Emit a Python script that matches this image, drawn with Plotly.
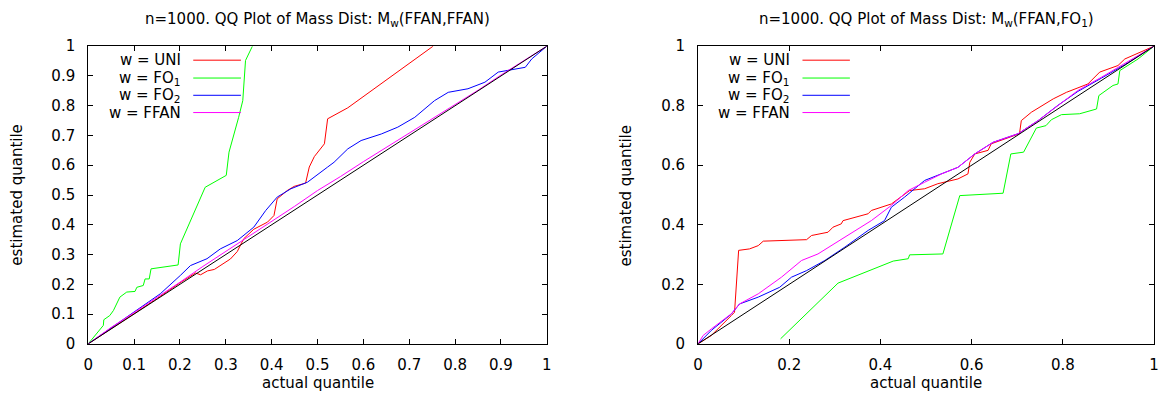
import plotly.graph_objects as go

# ---------------- data ----------------
# Left panel: M_w(FFAN,FFAN)
L_uni_x = [0, 0.05, 0.10, 0.15, 0.20, 0.234, 0.245, 0.26, 0.275, 0.29, 0.31, 0.325, 0.339, 0.361, 0.391, 0.405, 0.412, 0.434, 0.449, 0.474, 0.482, 0.493, 0.515, 0.522, 0.566, 0.752]
L_uni_y = [0, 0.05, 0.10, 0.152, 0.205, 0.238, 0.232, 0.245, 0.25, 0.265, 0.285, 0.31, 0.353, 0.385, 0.409, 0.431, 0.487, 0.515, 0.529, 0.540, 0.594, 0.629, 0.672, 0.756, 0.793, 1.0]

L_fo1_x = [0, 0.033, 0.034, 0.047, 0.055, 0.060, 0.069, 0.084, 0.102, 0.106, 0.120, 0.124, 0.133, 0.137, 0.196, 0.201, 0.255, 0.301, 0.307, 0.328, 0.337, 0.343, 0.358]
L_fo1_y = [0, 0.062, 0.081, 0.095, 0.112, 0.129, 0.157, 0.174, 0.176, 0.190, 0.196, 0.218, 0.218, 0.252, 0.265, 0.336, 0.526, 0.566, 0.644, 0.761, 0.817, 0.952, 1.0]

L_fo2_x = [0, 0.05, 0.091, 0.157, 0.201, 0.223, 0.259, 0.288, 0.325, 0.361, 0.387, 0.412, 0.442, 0.478, 0.522, 0.536, 0.566, 0.595, 0.639, 0.675, 0.712, 0.755, 0.785, 0.828, 0.865, 0.894, 0.953, 0.967, 1.0]
L_fo2_y = [0, 0.053, 0.095, 0.168, 0.230, 0.263, 0.286, 0.319, 0.347, 0.392, 0.448, 0.493, 0.521, 0.543, 0.594, 0.610, 0.655, 0.683, 0.705, 0.728, 0.761, 0.817, 0.845, 0.857, 0.879, 0.913, 0.929, 0.957, 1.0]

L_ffan_x = [0, 0.05, 0.10, 0.15, 0.20, 0.25, 0.30, 0.35, 0.40, 0.45, 0.50, 0.55, 0.60, 0.65, 0.70, 0.75, 0.80, 0.85, 0.90, 0.95, 1.0]
L_ffan_y = [0, 0.055, 0.105, 0.155, 0.207, 0.26, 0.31, 0.36, 0.41, 0.462, 0.515, 0.562, 0.612, 0.66, 0.71, 0.758, 0.805, 0.852, 0.903, 0.952, 1.0]

# Right panel: M_w(FFAN,FO1)
R_uni_x = [0, 0.029, 0.073, 0.080, 0.089, 0.113, 0.132, 0.143, 0.238, 0.249, 0.285, 0.296, 0.314, 0.318, 0.373, 0.380, 0.424, 0.464, 0.497, 0.526, 0.570, 0.592, 0.596, 0.607, 0.636, 0.643, 0.705, 0.709, 0.731, 0.779, 0.808, 0.855, 0.881, 0.921, 0.936, 1.0]
R_uni_y = [0, 0.028, 0.095, 0.106, 0.314, 0.319, 0.330, 0.345, 0.350, 0.364, 0.375, 0.392, 0.403, 0.414, 0.437, 0.448, 0.470, 0.515, 0.521, 0.538, 0.554, 0.571, 0.610, 0.638, 0.650, 0.672, 0.706, 0.750, 0.778, 0.823, 0.845, 0.873, 0.913, 0.935, 0.957, 1.0]

R_fo1_x = [0.181, 0.307, 0.428, 0.461, 0.464, 0.537, 0.574, 0.669, 0.686, 0.714, 0.742, 0.763, 0.775, 0.797, 0.837, 0.874, 0.879, 0.910, 0.921, 0.925, 0.965, 1.0]
R_fo1_y = [0.017, 0.204, 0.278, 0.286, 0.299, 0.302, 0.498, 0.506, 0.638, 0.644, 0.725, 0.733, 0.753, 0.770, 0.773, 0.789, 0.834, 0.868, 0.873, 0.918, 0.957, 1.0]

R_fo2_x = [0, 0.029, 0.073, 0.091, 0.132, 0.179, 0.205, 0.238, 0.278, 0.322, 0.373, 0.409, 0.424, 0.453, 0.497, 0.534, 0.570, 0.607, 0.647, 0.702, 0.746, 0.789, 0.833, 0.885, 0.936, 1.0]
R_fo2_y = [0, 0.045, 0.100, 0.134, 0.157, 0.190, 0.224, 0.246, 0.280, 0.325, 0.381, 0.414, 0.459, 0.493, 0.549, 0.571, 0.593, 0.638, 0.677, 0.706, 0.750, 0.801, 0.848, 0.893, 0.938, 1.0]

R_ffan_x = [0, 0.011, 0.029, 0.073, 0.091, 0.132, 0.183, 0.227, 0.263, 0.322, 0.380, 0.424, 0.461, 0.497, 0.534, 0.570, 0.607, 0.647, 0.702, 0.746, 0.789, 0.833, 0.885, 0.936, 1.0]
R_ffan_y = [0, 0.028, 0.050, 0.101, 0.134, 0.168, 0.224, 0.280, 0.302, 0.358, 0.414, 0.465, 0.515, 0.543, 0.571, 0.593, 0.638, 0.677, 0.706, 0.750, 0.801, 0.851, 0.896, 0.941, 1.0]

diag_x = [0, 1]
diag_y = [0, 1]

left_ticks = [0, 0.1, 0.2, 0.3, 0.4, 0.5, 0.6, 0.7, 0.8, 0.9, 1]
left_tick_text = ["0", "0.1", "0.2", "0.3", "0.4", "0.5", "0.6", "0.7", "0.8", "0.9", "1"]
right_ticks = [0, 0.2, 0.4, 0.6, 0.8, 1]
right_tick_text = ["0", "0.2", "0.4", "0.6", "0.8", "1"]

series_names = ["w = UNI", "w = FO<sub>1</sub>", "w = FO<sub>2</sub>", "w = FFAN"]
series_colors = ["#ff0000", "#00ff00", "#0000ff", "#ff00ff"]

titles = ["n=1000. QQ Plot of Mass Dist: M<sub>w</sub>(FFAN,FFAN)",
          "n=1000. QQ Plot of Mass Dist: M<sub>w</sub>(FFAN,FO<sub>1</sub>)"]
xlabel = "actual quantile"
ylabel = "estimated quantile"

# ---------------- figure ----------------
FONT = "DejaVu Sans"
FS = 15
W, H = 1159, 401

fig = go.Figure()

left_series = [(L_uni_x, L_uni_y), (L_fo1_x, L_fo1_y), (L_fo2_x, L_fo2_y), (L_ffan_x, L_ffan_y)]
right_series = [(R_uni_x, R_uni_y), (R_fo1_x, R_fo1_y), (R_fo2_x, R_fo2_y), (R_ffan_x, R_ffan_y)]

for panel, (series, xa, ya) in enumerate([(left_series, "x", "y"), (right_series, "x2", "y2")]):
    for (sx, sy), name, col in zip(series, series_names, series_colors):
        fig.add_trace(go.Scatter(x=sx, y=sy, mode="lines", name=name,
                                 line=dict(color=col, width=1), xaxis=xa, yaxis=ya,
                                 showlegend=False, hoverinfo="skip"))
    fig.add_trace(go.Scatter(x=diag_x, y=diag_y, mode="lines", line=dict(color="black", width=1),
                             xaxis=xa, yaxis=ya, showlegend=False, hoverinfo="skip"))

# target picture pixel -> paper fraction (calibrated against the rendered picture)
def px_x(p):
    return min(1.0, max(0.0, ((p - 4.9) / 0.99) / W))

def px_y(p):
    return min(1.0, max(0.0, (H - (p - 8.9) / 0.953) / H))

ydom = [px_y(343), px_y(46)]
axis_common = dict(range=[0, 1], showgrid=False, zeroline=False, showline=True,
                   linecolor="black", linewidth=1, mirror="allticks", ticks="inside",
                   ticklen=5, tickwidth=1, tickcolor="black",
                   tickfont=dict(family=FONT, size=FS, color="black"))

fig.update_layout(
    width=W, height=H,
    margin=dict(l=0, r=0, t=0, b=0),
    paper_bgcolor="white", plot_bgcolor="white",
    font=dict(family=FONT, size=FS, color="black"),
    showlegend=False,
    xaxis=dict(domain=[px_x(88), px_x(546)], anchor="y", tickmode="array",
               tickvals=left_ticks, ticktext=left_tick_text, ticklabelstandoff=7, **axis_common),
    yaxis=dict(domain=ydom, anchor="x", tickmode="array",
               tickvals=left_ticks, ticktext=left_tick_text, ticklabelstandoff=9, **axis_common),
    xaxis2=dict(domain=[px_x(697), px_x(1153)], anchor="y2", tickmode="array",
                tickvals=right_ticks, ticktext=right_tick_text, ticklabelstandoff=7, **axis_common),
    yaxis2=dict(domain=ydom, anchor="x2", tickmode="array",
                tickvals=right_ticks, ticktext=right_tick_text, ticklabelstandoff=9, **axis_common),
)

annotations = []
shapes = []
centers = [(88 + 546) / 2, (697 + 1153) / 2]
ylab_x = [16, 625]
for i in range(2):
    annotations.append(dict(text=titles[i], x=px_x(centers[i]), y=px_y(19), xref="paper", yref="paper",
                            xanchor="center", yanchor="middle", showarrow=False,
                            font=dict(family=FONT, size=FS, color="black")))
    annotations.append(dict(text=xlabel, x=px_x(centers[i]), y=px_y(382), xref="paper", yref="paper",
                            xanchor="center", yanchor="middle", showarrow=False,
                            font=dict(family=FONT, size=FS, color="black")))
    annotations.append(dict(text=ylabel, x=px_x(ylab_x[i]), y=px_y(195), xref="paper", yref="paper",
                            xanchor="center", yanchor="middle", textangle=-90, showarrow=False,
                            font=dict(family=FONT, size=FS, color="black")))
    xr = "x domain" if i == 0 else "x2 domain"
    yr = "y domain" if i == 0 else "y2 domain"
    row_y = [0.953, 0.893, 0.835, 0.777]
    for name, col, ry in zip(series_names, series_colors, row_y):
        annotations.append(dict(text=name, x=0.206, y=ry, xref=xr, yref=yr,
                                xanchor="right", yanchor="middle", showarrow=False,
                                font=dict(family=FONT, size=FS, color="black")))
        shapes.append(dict(type="line", x0=0.229, x1=0.333, y0=ry, y1=ry, xref=xr, yref=yr,
                           line=dict(color=col, width=1)))

fig.update_layout(annotations=annotations, shapes=shapes)

post = ("var d=document.getElementById('{plot_id}');"
        "d.style.position='fixed';d.style.left='0px';d.style.top='0px';"
        "document.body.style.margin='0';document.body.style.overflow='hidden';"
        "document.documentElement.style.overflow='hidden';")
fig.write_html("out.html", config={"displayModeBar": False}, post_script=post)
